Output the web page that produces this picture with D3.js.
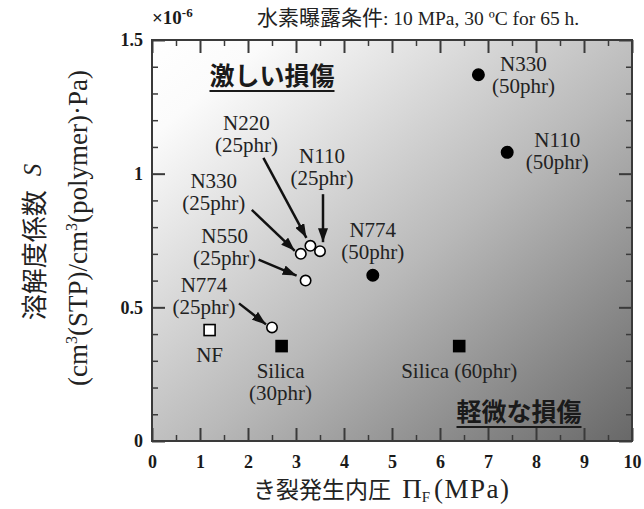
<!DOCTYPE html>
<html>
<head>
<meta charset="utf-8">
<script src="https://cdn.jsdelivr.net/npm/d3@7"></script>
<style>
  body { margin: 0; background: #fff; }
  svg { display: block; }
</style>
</head>
<body>
<svg id="chart" width="644" height="509"></svg>
<script>
// ---- data ----
const sampleNames   = ["N330", "N110", "N774", "Silica", "Silica", "NF", "N774", "N550", "N330", "N220", "N110"];
const loadings      = ["50phr", "50phr", "50phr", "60phr", "30phr", "", "25phr", "25phr", "25phr", "25phr", "25phr"];
const crackPressure = [6.8, 7.4, 4.6, 6.4, 2.7, 1.2, 2.5, 3.2, 3.1, 3.3, 3.5];     // Π_F (MPa)
const solubility    = [1.37, 1.08, 0.62, 0.355, 0.355, 0.415, 0.425, 0.60, 0.70, 0.73, 0.71]; // ×10^-6
const markerShape   = ["circle", "circle", "circle", "square", "square", "square", "circle", "circle", "circle", "circle", "circle"];
const markerFilled  = [true, true, true, true, true, false, false, false, false, false, false];

const xTicks = [0, 1, 2, 3, 4, 5, 6, 7, 8, 9, 10];
const yTicks = [0, 0.5, 1, 1.5];
const yTickLabels = ["0", "0.5", "1", "1.5"];

// label placement relative to each marker (px): [dx, dy, singleLine]
const labelOffset = [
  [45, -4, false], [50, -5, false], [0, -38, false], [0, 32, true], [-1, 32, false],
  [0, 32, false], [-68, -35, false], [-81, -38, false], [-87, -66, false], [-64, -116, false], [2, -88, false]
];
// arrows from label to marker (px relative to marker): [sx, sy, ex, ey] or null
const arrowOffset = [
  null, null, null, null, null, null,
  [-33, -24, -6, -3], [-47, -21, -9, -5], [-49, -44, -6, -3], [-47, -88, -4, -8], [3, -57, 3, -9]
];

// ---- layout ----
const svg = d3.select("#chart");
const x = d3.scaleLinear().domain([0, 10]).range([152, 632]);
const y = d3.scaleLinear().domain([0, 1.5]).range([441, 40]);
const serif = "'Liberation Serif', 'Times New Roman', serif";
const gothic = "'Noto Sans CJK JP', sans-serif";
const ink = "#222";
const frame = "#3a3a3a";

const defs = svg.append("defs");
const grad = defs.append("linearGradient").attr("id", "bg")
  .attr("x1", 0).attr("y1", 0).attr("x2", 1).attr("y2", 1);
grad.append("stop").attr("offset", 0).attr("stop-color", "#ffffff");
grad.append("stop").attr("offset", 0.12).attr("stop-color", "#fbfbfb");
grad.append("stop").attr("offset", 0.55).attr("stop-color", "#b9b9b9");
grad.append("stop").attr("offset", 1).attr("stop-color", "#686868");

defs.append("marker").attr("id", "head")
  .attr("markerUnits", "userSpaceOnUse")
  .attr("viewBox", "0 0 14 10").attr("refX", 14).attr("refY", 5)
  .attr("markerWidth", 14).attr("markerHeight", 10).attr("orient", "auto")
  .append("path").attr("d", "M0,0 L14,5 L0,10 Z").attr("fill", "#111");

// plot background
svg.append("rect")
  .attr("x", x(0)).attr("y", y(1.5))
  .attr("width", x(10) - x(0)).attr("height", y(0) - y(1.5))
  .attr("fill", "url(#bg)");

// ticks on all four sides, pointing inward
const xMinor = d3.range(0.5, 10, 1);
const yMinor = d3.range(0, 1.5001, 0.1).filter(v => Math.abs(v * 2 - Math.round(v * 2)) > 1e-6);

function tickAxis(axisFn, scale, values, size, transform, width) {
  const g = svg.append("g").attr("transform", transform)
    .call(axisFn(scale).tickValues(values).tickSize(size).tickFormat(""));
  g.select(".domain").remove();
  g.selectAll("line").attr("stroke", frame).attr("stroke-width", width);
  return g;
}
tickAxis(d3.axisBottom, x, xTicks, -13, `translate(0,${y(0)})`, 2);
tickAxis(d3.axisBottom, x, xMinor, -6, `translate(0,${y(0)})`, 1.5);
tickAxis(d3.axisTop, x, xTicks, -13, `translate(0,${y(1.5)})`, 2);
tickAxis(d3.axisTop, x, xMinor, -6, `translate(0,${y(1.5)})`, 1.5);
tickAxis(d3.axisLeft, y, yTicks, -13, `translate(${x(0)},0)`, 2);
tickAxis(d3.axisLeft, y, yMinor, -6, `translate(${x(0)},0)`, 1.5);
tickAxis(d3.axisRight, y, yTicks, -13, `translate(${x(10)},0)`, 2);
tickAxis(d3.axisRight, y, yMinor, -6, `translate(${x(10)},0)`, 1.5);

// tick labels
const xLab = svg.append("g").attr("transform", `translate(0,${y(0)})`)
  .call(d3.axisBottom(x).tickValues(xTicks).tickSize(0).tickPadding(14).tickFormat(d3.format("d")));
xLab.select(".domain").remove();
xLab.selectAll("text").attr("font-family", serif).attr("font-size", 18)
  .attr("font-weight", "bold").attr("fill", "#1a1a1a");

const yLab = svg.append("g").attr("transform", `translate(${x(0)},0)`)
  .call(d3.axisLeft(y).tickValues(yTicks).tickSize(0).tickPadding(9)
    .tickFormat((d, i) => yTickLabels[i]));
yLab.select(".domain").remove();
yLab.selectAll("text").attr("font-family", serif).attr("font-size", 18)
  .attr("font-weight", "bold").attr("fill", "#1a1a1a");

// frame
svg.append("rect")
  .attr("x", x(0)).attr("y", y(1.5))
  .attr("width", x(10) - x(0)).attr("height", y(0) - y(1.5))
  .attr("fill", "none").attr("stroke", frame).attr("stroke-width", 2);

// exponent marker
const expo = svg.append("text").attr("x", 152).attr("y", 24)
  .attr("font-family", serif).attr("font-size", 19).attr("font-weight", "bold").attr("fill", "#1a1a1a");
expo.append("tspan").text("×10");
expo.append("tspan").attr("dy", -7).attr("font-size", 13).text("-6");

// exposure conditions
const cond = svg.append("text").attr("x", 257).attr("y", 25).attr("fill", ink);
cond.append("tspan").attr("font-family", gothic).attr("font-size", 21).text("水素曝露条件");
cond.append("tspan").attr("font-family", serif).attr("font-size", 19.5).text(": 10 MPa, 30 ºC for 65 h.");

// damage regions
function regionLabel(text, cx, base) {
  const t = svg.append("text").attr("x", cx).attr("y", base).attr("text-anchor", "middle")
    .attr("font-family", gothic).attr("font-size", 25).attr("font-weight", "bold")
    .attr("fill", "#1a1a1a").text(text);
  const b = t.node().getBBox();
  svg.append("line").attr("x1", b.x).attr("x2", b.x + b.width)
    .attr("y1", base + 6).attr("y2", base + 6)
    .attr("stroke", "#1a1a1a").attr("stroke-width", 2);
}
regionLabel("激しい損傷", 272, 85);
regionLabel("軽微な損傷", 519, 421);

// arrows
crackPressure.forEach((v, i) => {
  const a = arrowOffset[i];
  if (!a) return;
  const px = x(v), py = y(solubility[i]);
  svg.append("line")
    .attr("x1", px + a[0]).attr("y1", py + a[1])
    .attr("x2", px + a[2]).attr("y2", py + a[3])
    .attr("stroke", "#111").attr("stroke-width", 2.5)
    .attr("marker-end", "url(#head)");
});

// markers
const pts = svg.append("g");
crackPressure.forEach((v, i) => {
  const px = x(v), py = y(solubility[i]);
  const fill = markerFilled[i] ? "#000" : "#fff";
  if (markerShape[i] === "circle") {
    pts.append("circle").attr("cx", px).attr("cy", py)
      .attr("r", markerFilled[i] ? 5.7 : 5.2)
      .attr("fill", fill).attr("stroke", "#000").attr("stroke-width", 1.6);
  } else {
    pts.append("rect").attr("x", px - 5.5).attr("y", py - 5.5)
      .attr("width", 11).attr("height", 11)
      .attr("fill", fill).attr("stroke", "#000").attr("stroke-width", 1.6);
  }
});

// sample labels
crackPressure.forEach((v, i) => {
  const px = x(v) + labelOffset[i][0], py = y(solubility[i]) + labelOffset[i][1];
  const t = svg.append("text").attr("x", px).attr("y", py).attr("text-anchor", "middle")
    .attr("font-family", serif).attr("font-size", 21).attr("fill", ink);
  if (!loadings[i]) { t.text(sampleNames[i]); return; }
  if (labelOffset[i][2]) { t.text(`${sampleNames[i]} (${loadings[i]})`); return; }
  t.append("tspan").attr("x", px).text(sampleNames[i]);
  t.append("tspan").attr("x", px).attr("dy", 22).text(`(${loadings[i]})`);
});

// x-axis title
const xt = svg.append("text").attr("x", 253).attr("y", 498).attr("fill", ink);
xt.append("tspan").attr("font-family", gothic).attr("font-size", 23).text("き裂発生内圧 ");
xt.append("tspan").attr("font-family", serif).attr("font-size", 27).attr("dx", 6).text("Π");
xt.append("tspan").attr("font-family", serif).attr("font-size", 15).attr("dy", 4).text("F");
xt.append("tspan").attr("font-family", serif).attr("font-size", 27).attr("dy", -4).attr("dx", 4)
  .attr("letter-spacing", 1.5).text("(MPa)");

// y-axis title, two lines
const yt1 = svg.append("text").attr("transform", "translate(32,242) rotate(-90)")
  .attr("text-anchor", "middle").attr("dominant-baseline", "central").attr("fill", ink);
yt1.append("tspan").attr("font-family", gothic).attr("font-size", 26).text("溶解度係数");
yt1.append("tspan").attr("font-family", serif).attr("font-size", 25).attr("font-style", "italic")
  .attr("dx", 14).text("S");

const yt2 = svg.append("text").attr("transform", "translate(87,228) rotate(-90)")
  .attr("text-anchor", "middle").attr("font-family", serif).attr("font-size", 27).attr("fill", ink);
yt2.append("tspan").text("(cm");
yt2.append("tspan").attr("font-size", 16).attr("dy", -10).text("3");
yt2.append("tspan").attr("dy", 10).text("(STP)/cm");
yt2.append("tspan").attr("font-size", 16).attr("dy", -10).text("3");
yt2.append("tspan").attr("dy", 10).text("(polymer)·Pa)");
</script>
</body>
</html>
